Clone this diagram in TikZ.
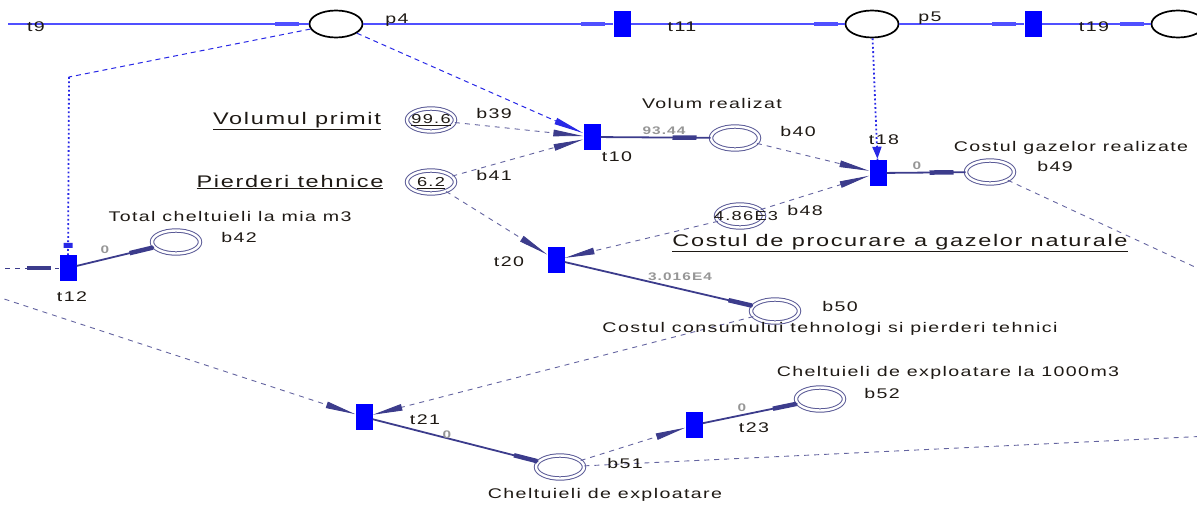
\documentclass[tikz,border=0pt]{standalone}
\usepackage{fontspec}
\setmainfont{Liberation Sans}[FakeStretch=1.4,LetterSpace=10]
\usetikzlibrary{shapes.geometric,arrows.meta,decorations.markings}
\definecolor{tblue}{RGB}{0,0,255}
\definecolor{topline}{RGB}{80,80,255}
\definecolor{topdash}{RGB}{40,40,230}
\definecolor{arcsolid}{RGB}{60,60,140}
\definecolor{arcdash}{RGB}{100,100,160}
\definecolor{pcol}{RGB}{90,90,150}
\definecolor{wgray}{RGB}{150,150,150}
\definecolor{txt}{RGB}{30,25,20}
\begin{document}
\begin{tikzpicture}[x=1pt,y=-1pt,
 trans/.style={rectangle,fill=tblue,draw=none,minimum width=17pt,minimum height=26pt,inner sep=0pt},
 tplace/.style={ellipse,draw=black,line width=1.7pt,minimum width=53pt,minimum height=27pt,inner sep=0pt},
 dplace/.style={ellipse,draw=pcol,double=white,double distance=2.4pt,line width=1pt,minimum width=48pt,minimum height=23pt,inner sep=0pt},
 lbl/.style={inner sep=0pt,text=txt,font=\fontsize{14}{15}\selectfont},
 vlbl/.style={inner sep=0pt,text=txt,font=\fontsize{13}{14}\selectfont},
 titl/.style={inner sep=0pt,text=txt,font=\fontsize{16.8}{18}\selectfont},
 wlbl/.style={inner sep=0pt,text=wgray,font=\fontsize{11}{12}\selectfont\bfseries},
 topstyle/.style={draw=topline,line width=1.3pt},
 solidarc/.style={draw=arcsolid,line width=1.8pt},
 dasharc/.style={draw=arcdash,line width=0.9pt,dash pattern=on 5pt off 5pt},
 bluedash/.style={draw=topdash,line width=1pt,dash pattern=on 5pt off 4pt},
 bluedot/.style={draw=topdash,line width=1.8pt,dash pattern=on 1.8pt off 2.5pt},
 barend/.style={decoration={markings,mark=at position -#1 with {\arrow{Rectangle[length=24pt,width=4.5pt]}}},postaction={decorate}},
 teeend/.style={decoration={markings,mark=at position -7pt with {\arrow{Rectangle[length=5pt,width=9pt]}}},postaction={decorate}},
 trienda/.style={decoration={markings,mark=at position -1pt with {\arrow{Triangle[length=12pt,width=9pt]}}},postaction={decorate}},
 wedge/.style={-{Triangle[length=30pt,width=6.5pt,color=arcsolid]}},
 bwedge/.style={-{Triangle[length=30pt,width=6.5pt,color=topdash]}},
]
\useasboundingbox (0,0) rectangle (1197,506);

% top row
\coordinate (l0) at (8,24);
\node[tplace] (p4) at (336,24) {};
\node[trans] (t11) at (622,24) {};
\node[tplace] (p5) at (872,24) {};
\node[trans] (t19) at (1033,24) {};
\node[tplace] (p6) at (1178,24) {};

% transitions
\node[trans] (t10) at (592,137) {};
\node[trans] (t18) at (878,173) {};
\node[trans] (t12) at (68,268) {};
\node[trans] (t20) at (556,260) {};
\node[trans] (t21) at (364,417) {};
\node[trans] (t23) at (694,425) {};

% double places
\node[dplace] (b39) at (431,120) {};
\node[dplace] (b41) at (431,182) {};
\node[dplace] (b40) at (735,138) {};
\node[dplace] (b49) at (990,172) {};
\node[dplace] (b48) at (740,216) {};
\node[dplace] (b42) at (176,242) {};
\node[dplace] (b50) at (775,311) {};
\node[dplace] (b51) at (560,467) {};
\node[dplace] (b52) at (820,399) {};

% free ends
\coordinate (c12) at (69,77);
\coordinate (lc12) at (-5,268);
\coordinate (lc21) at (-5,296);
\coordinate (rc51) at (1210,436);
\coordinate (rc49) at (1210,274);

% top arcs
\draw[topstyle,barend=10pt] (l0) -- (p4);
\draw[topstyle,barend=8pt] (p4) -- (t11);
\draw[topstyle,barend=7pt] (t11) -- (p5);
\draw[topstyle,barend=8pt] (p5) -- (t19);
\draw[topstyle,barend=7pt] (t19) -- (p6);

% blue test arcs
\draw[bluedash] (p4) -- (c12);
\draw[bluedot,teeend] (c12) -- (t12);
\draw[bluedot,trienda] (p5) -- (t18);
\draw[bluedash,bwedge] (p4) -- (t10);

% inner arcs
\draw[dasharc,wedge] (b39) -- (t10);
\draw[dasharc,wedge] (b41) -- (t10);
\draw[solidarc,barend=14pt] (t10) -- (b40);
\draw[dasharc,wedge] (b40) -- (t18);
\draw[dasharc,wedge] (b48) -- (t18);
\draw[solidarc,barend=12pt] (t18) -- (b49);
\draw[dasharc,wedge] (b48) -- (t20);
\draw[dasharc,wedge] (b41) -- (t20);
\draw[solidarc,barend=1pt] (t20) -- (b50);
\draw[dasharc,wedge] (b50) -- (t21);
\draw[dasharc,wedge] (lc21) -- (t21);
\draw[solidarc,barend=1pt] (t21) -- (b51);
\draw[dasharc,wedge] (b51) -- (t23);
\draw[solidarc,barend=1pt] (t23) -- (b52);
\draw[solidarc,barend=1pt] (t12) -- (b42);
\draw[dasharc,draw=arcsolid,barend=8pt] (lc12) -- (t12);
\draw[dasharc] (b51) -- (rc51);
\draw[dasharc] (b49) -- (rc49);

% values inside places
\node[vlbl] (v39) at (431,120) {\underline{99.6}};
\node[vlbl] (v41) at (431,183) {\underline{6.2}};
\node[vlbl] (v48) at (746,216) {4.86E3};

% labels
\node[lbl] (t9l) at (36,27) {t9};
\node[lbl] (p4l) at (397,20) {p4};
\node[lbl] (t11l) at (682,27) {t11};
\node[lbl] (p5l) at (930,18) {p5};
\node[lbl] (t19l) at (1094,27) {t19};
\node[lbl] (b39l) at (494,113) {b39};
\node[lbl] (b41l) at (494,175) {b41};
\node[lbl] (t10l) at (617,157) {t10};
\node[lbl] (volr) at (712,103) {Volum realizat};
\node[wlbl] (w1040) at (664,131) {93.44};
\node[lbl] (b40l) at (798,131) {b40};
\node[lbl] (t18l) at (884,140) {t18};
\node[wlbl] (w1849) at (917,166) {0};
\node[lbl] (cgr) at (1071,148) {Costul gazelor realizate};
\node[lbl] (b49l) at (1055,166) {b49};
\node[titl] (volp) at (297,121) {\underline{Volumul primit}};
\node[titl] (pt) at (290,182) {\underline{Pierderi tehnice}};
\node[lbl] (tc) at (230,216) {Total cheltuieli la mia m3};
\node[lbl] (b42l) at (239,237) {b42};
\node[wlbl] (w1242) at (105,250) {0};
\node[lbl] (t12l) at (72,297) {t12};
\node[lbl] (t20l) at (509,262) {t20};
\node[lbl] (b48l) at (805,210) {b48};
\node[titl] (cpg) at (900,243) {\underline{Costul de procurare a gazelor naturale}};
\node[wlbl] (w2050) at (680,277) {3.016E4};
\node[lbl] (b50l) at (840,306) {b50};
\node[lbl] (cct) at (830,329) {Costul consumului tehnologi si pierderi tehnici};
\node[lbl] (t21l) at (425,420) {t21};
\node[wlbl] (w2151) at (447,435) {0};
\node[lbl] (b51l) at (625,463) {b51};
\node[lbl] (cde) at (605,495) {Cheltuieli de exploatare};
\node[lbl] (t23l) at (754,428) {t23};
\node[wlbl] (w2352) at (742,408) {0};
\node[lbl] (b52l) at (882,393) {b52};
\node[lbl] (cde2) at (948,373) {Cheltuieli de exploatare la 1000m3};
\end{tikzpicture}
\end{document}
